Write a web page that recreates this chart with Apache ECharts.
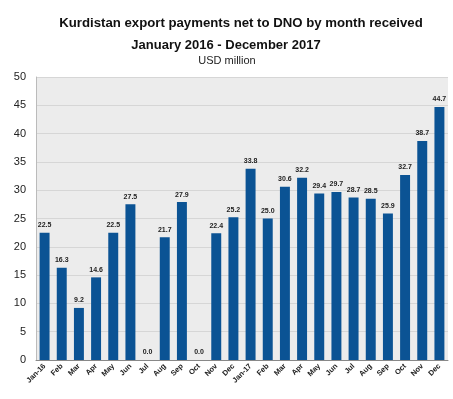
<!DOCTYPE html>
<html><head><meta charset="utf-8">
<script src="https://cdn.jsdelivr.net/npm/echarts@6/dist/echarts.min.js"></script>
<style>html,body{margin:0;padding:0;background:#fff}#c{width:453px;height:399px}</style>
</head><body><div id="c"></div>
<script>
const categories = ["Jan-16","Feb","Mar","Apr","May","Jun","Jul","Aug","Sep","Oct","Nov","Dec","Jan-17","Feb","Mar","Apr","May","Jun","Jul","Aug","Sep","Oct","Nov","Dec"];
const payments = [22.5,16.3,9.2,14.6,22.5,27.5,0.0,21.7,27.9,0.0,22.4,25.2,33.8,25.0,30.6,32.2,29.4,29.7,28.7,28.5,25.9,32.7,38.7,44.7];
const yTicks = [0,5,10,15,20,25,30,35,40,45,50];

const chart = echarts.init(document.getElementById('c'), null, {renderer:'canvas'});
chart.setOption({
  animation:false,
  backgroundColor:'#fff',
  title:[
    {text:'Kurdistan export payments net to DNO by month received', left:236, textAlign:'center', top:12,
     textStyle:{fontFamily:'Liberation Sans', fontSize:13.2, fontWeight:'bold', color:'#111'}},
    {text:'January 2016 - December 2017', left:221, textAlign:'center', top:34,
     textStyle:{fontFamily:'Liberation Sans', fontSize:13, fontWeight:'bold', color:'#111'}},
    {text:'USD million', left:222, textAlign:'center', top:50,
     textStyle:{fontFamily:'Liberation Sans', fontSize:11, fontWeight:'normal', color:'#222'}}
  ],
  grid:{left:36, right:5, top:77, bottom:39, show:true, backgroundColor:'#ececec', borderWidth:0},
  xAxis:{type:'category', data:categories,
    axisLine:{show:true, lineStyle:{color:'#888'}}, axisTick:{show:false},
    axisLabel:{rotate:45, interval:0, fontFamily:'Liberation Sans', fontSize:7.5, fontWeight:'bold', color:'#222', margin:5}},
  yAxis:{type:'value', min:yTicks[0], max:yTicks[yTicks.length-1], interval:5,
    axisLine:{show:true, lineStyle:{color:'#bbb'}}, axisTick:{show:false},
    splitLine:{lineStyle:{color:'#d6d6d6', width:1}},
    axisLabel:{fontFamily:'Liberation Sans', fontSize:11, color:'#222', margin:10}},
  series:[{type:'bar', data:payments, barWidth:'58%',
    itemStyle:{color:'#0b5394'},
    label:{show:true, position:'top', distance:4, formatter:p=>p.value.toFixed(1),
      fontFamily:'Liberation Sans', fontSize:7, fontWeight:'bold', color:'#222'}}]
});
</script></body></html>
